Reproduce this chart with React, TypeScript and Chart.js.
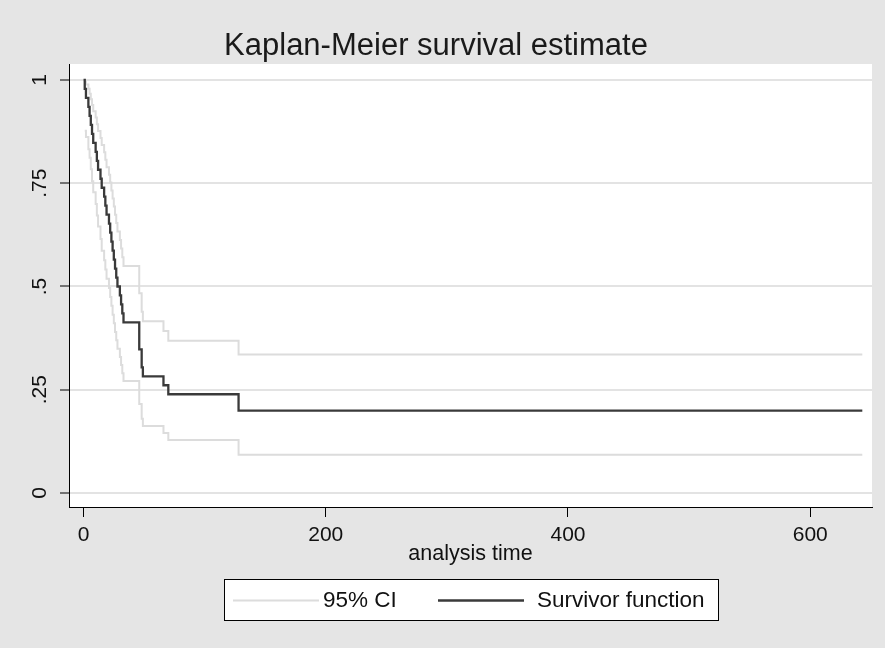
import React, { useEffect, useRef } from "react";
import { Chart, registerables } from "chart.js";

Chart.register(...registerables);

// ---- data ----
const eventTimes = [1, 2, 4, 5, 6, 7, 8, 10, 11, 12, 14, 15, 17, 18, 19, 21, 22, 23, 24, 25, 26, 27, 28, 30, 31, 32, 33, 46, 48, 49, 66, 70, 128];
const survivorValues = [0.9783, 0.9565, 0.9348, 0.913, 0.8913, 0.8696, 0.8478, 0.8261, 0.8043, 0.7826, 0.7609, 0.7391, 0.7174, 0.6957, 0.6739, 0.6522, 0.6304, 0.6087, 0.587, 0.5652, 0.5435, 0.5217, 0.5, 0.4783, 0.4565, 0.4348, 0.413, 0.3478, 0.3043, 0.2826, 0.2609, 0.2391, 0.1993];
const ciLowerValues = [0.877, 0.862, 0.832, 0.812, 0.784, 0.755, 0.728, 0.7, 0.672, 0.645, 0.615, 0.5866, 0.5636, 0.5409, 0.5185, 0.4964, 0.4746, 0.4531, 0.4318, 0.4108, 0.3901, 0.3696, 0.3494, 0.3294, 0.3097, 0.2902, 0.2711, 0.2152, 0.1795, 0.1622, 0.1452, 0.1286, 0.0926];
const ciUpperValues = [0.9969, 0.9889, 0.9785, 0.9664, 0.9533, 0.9392, 0.9244, 0.909, 0.893, 0.8766, 0.8598, 0.8426, 0.825, 0.8071, 0.7889, 0.7704, 0.7516, 0.7325, 0.7132, 0.6936, 0.6737, 0.6536, 0.6333, 0.6127, 0.5919, 0.5708, 0.5494, 0.4838, 0.4387, 0.4157, 0.3923, 0.3686, 0.3351];
const startTime = 0;
const startSurvival = 1;
const lastTime = 643;

const xTickValues = [0, 200, 400, 600];
const xTickLabels = ["0", "200", "400", "600"];
const yTickValues = [0, 0.25, 0.5, 0.75, 1];
const yTickLabels = ["0", ".25", ".5", ".75", "1"];

const titleText = "Kaplan-Meier survival estimate";
const xTitleText = "analysis time";
const ciLabel = "95% CI";
const survLabel = "Survivor function";

// ---- style ----
const FONT = "'Liberation Sans', Arial, Helvetica, sans-serif";
const BG = "#e5e5e5";
const CI_COLOR = "#dcdcdc";
const SURV_COLOR = "#3a3a3a";
const GRID_COLOR = "#e3e3e3";
const TEXT_COLOR = "#111111";

function withEnd(times: number[], vals: number[]) {
  const pts = times.map((t, i) => ({ x: t, y: vals[i] }));
  pts.push({ x: lastTime, y: vals[vals.length - 1] });
  return pts;
}

const bgPlugin = {
  id: "bgPlugin",
  beforeDraw(chart: any) {
    const { ctx, width, height, chartArea } = chart;
    ctx.save();
    ctx.fillStyle = BG;
    ctx.fillRect(0, 0, width, height);
    ctx.fillStyle = "#ffffff";
    ctx.fillRect(chartArea.left, chartArea.top, chartArea.right - chartArea.left, chartArea.bottom - chartArea.top);
    ctx.restore();
  },
};

const legendPlugin = {
  id: "boxLegend",
  afterDraw(chart: any) {
    const ctx = chart.ctx;
    const ds = chart.data.datasets;
    const items = [ds[1], ds[0]]; // CI first, then survivor
    ctx.save();
    const bx = 224.5, by = 579.5, bw = 494, bh = 41;
    ctx.fillStyle = "#ffffff";
    ctx.fillRect(bx, by, bw, bh);
    ctx.strokeStyle = "#000000";
    ctx.lineWidth = 1;
    ctx.strokeRect(bx, by, bw, bh);
    const ly = 600.5;
    const lineStarts = [233, 438];
    const textStarts = [323, 537];
    ctx.font = `22.5px ${FONT}`;
    ctx.textBaseline = "middle";
    ctx.textAlign = "left";
    items.forEach((d: any, i: number) => {
      ctx.strokeStyle = d.borderColor;
      ctx.lineWidth = d.borderWidth;
      ctx.beginPath();
      ctx.moveTo(lineStarts[i], ly);
      ctx.lineTo(lineStarts[i] + 86, ly);
      ctx.stroke();
      ctx.fillStyle = TEXT_COLOR;
      ctx.fillText(d.label, textStarts[i], ly);
    });
    ctx.restore();
  },
};

export default function App() {
  const ref = useRef<HTMLCanvasElement>(null);

  useEffect(() => {
    const survPts = [{ x: startTime, y: startSurvival }, ...withEnd(eventTimes, survivorValues)];
    const chart = new Chart(ref.current as HTMLCanvasElement, {
      type: "line",
      data: {
        datasets: [
          {
            label: survLabel,
            data: survPts,
            borderColor: SURV_COLOR,
            borderWidth: 2.3,
            stepped: true,
            pointRadius: 0,
            fill: false,
            order: 0,
          },
          {
            label: ciLabel,
            data: withEnd(eventTimes, ciLowerValues),
            borderColor: CI_COLOR,
            borderWidth: 2,
            stepped: true,
            pointRadius: 0,
            fill: false,
            order: 1,
          },
          {
            label: ciLabel,
            data: withEnd(eventTimes, ciUpperValues),
            borderColor: CI_COLOR,
            borderWidth: 2,
            stepped: true,
            pointRadius: 0,
            fill: false,
            order: 2,
          },
        ],
      },
      options: {
        responsive: false,
        animation: false,
        devicePixelRatio: 1,
        layout: { padding: { left: 0, right: 13, top: 0, bottom: 81.5 } },
        plugins: {
          legend: { display: false },
          tooltip: { enabled: false },
          title: {
            display: true,
            text: titleText,
            color: "#1a1a1a",
            font: { family: FONT, size: 31, weight: "normal", lineHeight: 1 },
            padding: { top: 31, bottom: 2 },
          },
        },
        scales: {
          x: {
            type: "linear",
            min: -12,
            max: 651,
            afterBuildTicks: (s: any) => {
              s.ticks = xTickValues.map((v) => ({ value: v }));
            },
            afterFit: (s: any) => {
              s.height = 59.5;
            },
            ticks: {
              callback: (_v: any, i: number) => xTickLabels[i],
              font: { family: FONT, size: 21 },
              color: TEXT_COLOR,
              padding: 6,
              minRotation: 0,
              maxRotation: 0,
            },
            grid: {
              drawOnChartArea: false,
              drawTicks: true,
              tickLength: 10,
              tickColor: "#000000",
              tickWidth: 1,
            },
            border: { display: true, color: "#000000", width: 1 },
            title: {
              display: true,
              text: xTitleText,
              color: TEXT_COLOR,
              font: { family: FONT, size: 21.5 },
              padding: { top: 0, bottom: 0 },
            },
          },
          y: {
            type: "linear",
            min: -0.0339,
            max: 1.0387,
            afterBuildTicks: (s: any) => {
              s.ticks = yTickValues.map((v) => ({ value: v }));
            },
            afterFit: (s: any) => {
              s.width = 69;
            },
            ticks: {
              callback: (_v: any, i: number) => yTickLabels[i],
              font: { family: FONT, size: 21 },
              color: TEXT_COLOR,
              padding: 5,
              minRotation: 90,
              maxRotation: 90,
              crossAlign: "center",
            },
            grid: {
              color: GRID_COLOR,
              lineWidth: 2,
              drawTicks: true,
              tickLength: 9,
              tickColor: "#000000",
              tickWidth: 1,
            },
            border: { display: true, color: "#000000", width: 1 },
          },
        },
      } as any,
      plugins: [bgPlugin, legendPlugin],
    });
    return () => chart.destroy();
  }, []);

  return (
    <div style={{ position: "fixed", left: 0, top: 0, width: 885, height: 648 }}>
      <canvas ref={ref} width={885} height={648} style={{ display: "block", width: 885, height: 648 }} />
    </div>
  );
}
